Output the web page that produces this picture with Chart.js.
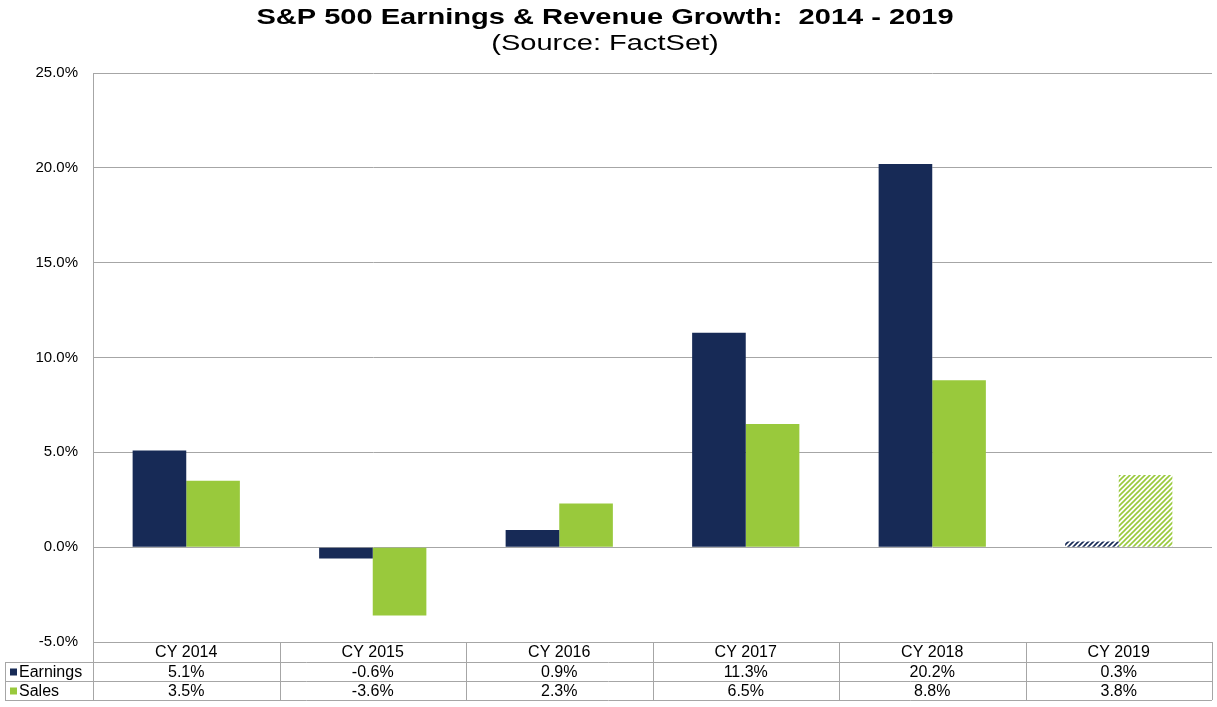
<!DOCTYPE html>
<html>
<head>
<meta charset="utf-8">
<script src="https://cdn.jsdelivr.net/npm/chart.js@4"></script>
<style>
html,body{margin:0;padding:0;background:#fff;}
#wrap{width:1217px;height:707px;}
</style>
</head>
<body>
<div id="wrap"><canvas id="c" width="1217" height="707"></canvas></div>
<script>
const categories = ['CY 2014','CY 2015','CY 2016','CY 2017','CY 2018','CY 2019'];
const earnings = [5.1, -0.6, 0.9, 11.3, 20.2, 0.3];
const sales = [3.5, -3.6, 2.3, 6.5, 8.8, 3.8];
const earningsLabels = ['5.1%','-0.6%','0.9%','11.3%','20.2%','0.3%'];
const salesLabels = ['3.5%','-3.6%','2.3%','6.5%','8.8%','3.8%'];
const estimated = [false,false,false,false,false,true];
const titleText = 'S&P 500 Earnings & Revenue Growth:  2014 - 2019';
const subtitleText = '(Source: FactSet)';

const NAVY = '#172a56';
const GREEN = '#99c93c';
const GRID = '#a6a6a6';
const FONT = '"Liberation Sans", Arial, sans-serif';

function hatch(color){
  const c = document.createElement('canvas');
  c.width = 5; c.height = 5;
  const g = c.getContext('2d');
  g.fillStyle = '#fff';
  g.fillRect(0,0,5,5);
  g.strokeStyle = color;
  g.lineWidth = 1.6;
  g.beginPath();
  g.moveTo(-1,6); g.lineTo(6,-1);
  g.moveTo(-1,1); g.lineTo(1,-1);
  g.moveTo(4,6); g.lineTo(6,4);
  g.stroke();
  return g.createPattern(c,'repeat');
}

const titlePlugin = {
  id: 'wideTitles',
  afterDraw(chart){
    const ctx = chart.ctx;
    const cx = 605;
    ctx.save();
    ctx.fillStyle = '#000';
    ctx.textAlign = 'center';
    ctx.textBaseline = 'middle';
    ctx.translate(cx, 0);
    ctx.scale(1.32, 1);
    ctx.font = 'bold 22px ' + FONT;
    ctx.fillText(titleText, 0, 17.5);
    ctx.font = '22px ' + FONT;
    ctx.fillText(subtitleText, 0, 44);
    ctx.restore();
  }
};

const tablePlugin = {
  id: 'dataTable',
  afterDraw(chart){
    const ctx = chart.ctx;
    const x = chart.scales.x;
    const a = chart.chartArea;
    const n = categories.length;
    const step = (a.right - a.left) / n;
    const y0 = a.bottom, y1 = y0 + 20, y2 = y1 + 19, y3 = y2 + 19;
    const leftX = 5;
    ctx.save();
    ctx.strokeStyle = GRID;
    ctx.lineWidth = 1;
    ctx.beginPath();
    [y1, y2, y3].forEach(y => { ctx.moveTo(leftX, Math.round(y)+0.5); ctx.lineTo(a.right, Math.round(y)+0.5); });
    for (let i = 0; i <= n; i++) {
      const xx = Math.round(a.left + i*step) + 0.5;
      ctx.moveTo(xx, y0); ctx.lineTo(xx, y3);
    }
    ctx.moveTo(leftX+0.5, y1); ctx.lineTo(leftX+0.5, y3);
    ctx.stroke();

    ctx.fillStyle = '#000';
    ctx.font = '16px ' + FONT;
    ctx.textAlign = 'center';
    ctx.textBaseline = 'middle';
    for (let i = 0; i < n; i++) {
      const cx = x.getPixelForValue(i);
      ctx.fillText(categories[i], cx, (y0+y1)/2 + 1);
      ctx.fillText(earningsLabels[i], cx, (y1+y2)/2 + 1);
      ctx.fillText(salesLabels[i], cx, (y2+y3)/2 + 1);
    }
    ctx.textAlign = 'left';
    ctx.font = '16px ' + FONT;
    ctx.fillStyle = NAVY;
    ctx.fillRect(10, (y1+y2)/2 - 3, 7, 7);
    ctx.fillStyle = GREEN;
    ctx.fillRect(10, (y2+y3)/2 - 3, 7, 7);
    ctx.fillStyle = '#000';
    ctx.fillText('Earnings', 19, (y1+y2)/2 + 1);
    ctx.fillText('Sales', 19, (y2+y3)/2 + 1);
    ctx.restore();
  }
};

new Chart(document.getElementById('c'), {
  type: 'bar',
  data: {
    labels: categories,
    datasets: [
      { label: 'Earnings', data: earnings,
        backgroundColor: estimated.map(e => e ? hatch(NAVY) : NAVY),
        categoryPercentage: 0.575, barPercentage: 1 },
      { label: 'Sales', data: sales,
        backgroundColor: estimated.map(e => e ? hatch(GREEN) : GREEN),
        categoryPercentage: 0.575, barPercentage: 1 }
    ]
  },
  options: {
    responsive: false,
    animation: false,
    layout: { padding: { left: 0, right: 5, top: 73, bottom: 65 } },
    plugins: {
      legend: { display: false },
      tooltip: { enabled: false },
      title: { display: false },
      subtitle: { display: false }
    },
    scales: {
      x: { display: false, offset: true },
      y: {
        min: -5, max: 25,
        afterFit(s){ s.width = 93; },
        ticks: { stepSize: 5, padding: 15, color: '#000',
          font: { family: FONT, size: 15 },
          callback: v => v.toFixed(1) + '%' },
        grid: { color: GRID, lineWidth: 1, drawTicks: false },
        border: { display: true, color: GRID }
      }
    }
  },
  plugins: [titlePlugin, tablePlugin]
});
</script>
</body>
</html>
